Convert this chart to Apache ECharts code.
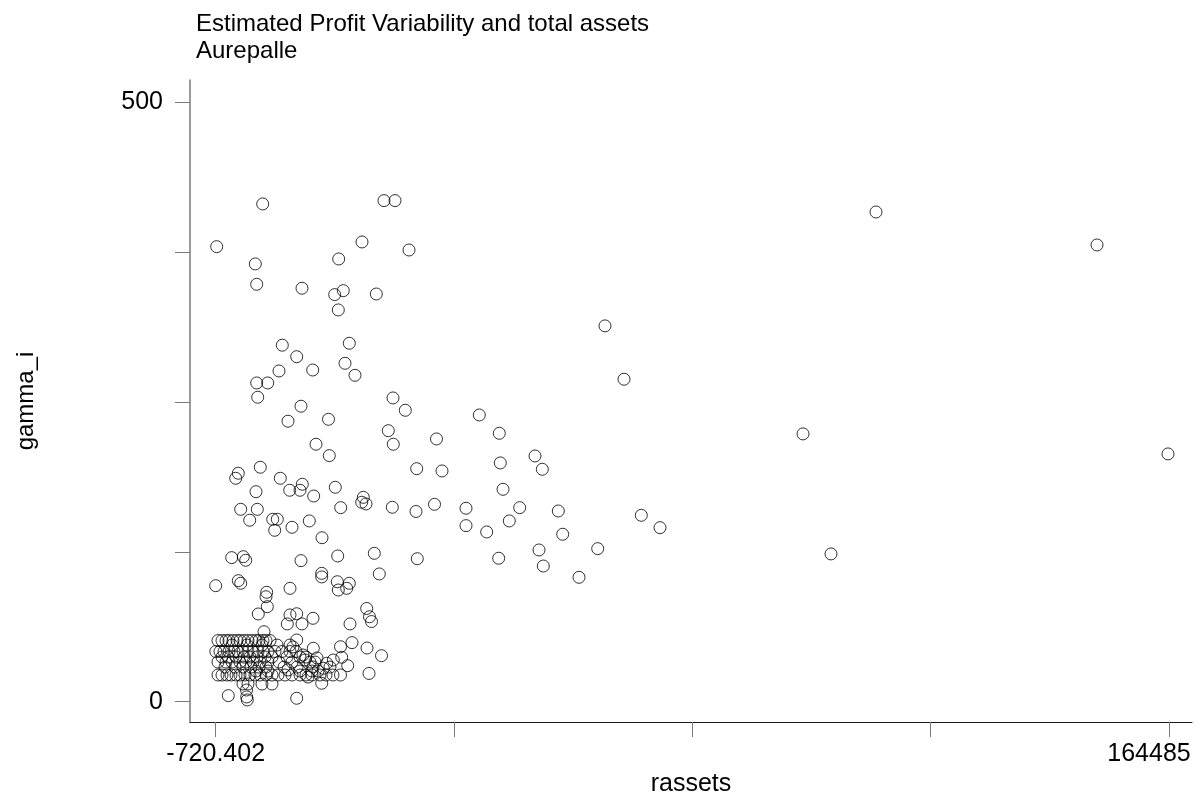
<!DOCTYPE html>
<html>
<head>
<meta charset="utf-8">
<title>Estimated Profit Variability and total assets</title>
<script src="https://cdn.jsdelivr.net/npm/echarts@6/dist/echarts.min.js"></script>
<style>
  html, body { margin: 0; padding: 0; background: #fff; }
  #chart { width: 1204px; height: 799px; }
</style>
</head>
<body>
<div id="chart"></div>
<script>
// titles / axis names
const titleText = 'Estimated Profit Variability and total assets\nAurepalle'
const xName = 'rassets'
const yName = 'gamma_i'

// ticks (Stata style: only min / max labelled on x, 0 / 500 on y)
const xTickValues = [-720.402, 40580.948, 81882.298, 123183.648, 164485]
const xLabelValues = [-720.402, 164485]
const yTickValues = [0, 125, 250, 375, 500]
const yLabelValues = [0, 500]

// axis extents
const xMin = -5174
const xMax = 168471
const yMin = -16.9
const yMax = 518.6

// [rassets, gamma_i] - scattered households
const pointsSparse = [
  [-547, 379.6], [7425, 415.2], [28446, 418.0], [30353, 418.0], [24634, 383.5],
  [32779, 376.8], [6142, 365.2], [20596, 369.3], [6385, 348.2], [14236, 344.9],
  [19902, 339.6], [21393, 342.9], [27112, 340.1], [20526, 326.8], [66746, 313.5],
  [10822, 297.4], [13317, 287.8], [22433, 299.0], [10250, 275.9], [16090, 276.7],
  [21688, 282.3], [23421, 272.3], [6385, 265.9], [8291, 265.9], [70038, 269.0],
  [6558, 254.0], [30006, 253.4], [32137, 243.1], [14062, 246.5], [44962, 239.2],
  [11809, 234.0], [18828, 235.6], [29191, 226.1], [30058, 214.8], [16662, 214.8],
  [37544, 219.2], [48428, 223.9], [101059, 223.4], [113710, 408.5], [152009, 381.0],
  [164313, 206.7], [18967, 205.3], [34113, 194.4], [38498, 192.5], [48601, 199.2],
  [54615, 205.0], [55880, 193.9], [7009, 195.6], [3196, 190.6], [2746, 186.4],
  [10475, 186.4], [6264, 175.2], [12104, 176.4], [13889, 176.4], [14288, 181.4],
  [16263, 171.6], [20006, 178.9], [24859, 170.5], [24582, 166.4], [25327, 165.0],
  [20942, 161.9], [29885, 162.2], [33992, 158.7], [37198, 164.7], [42657, 161.4],
  [42657, 146.9], [46244, 141.6], [49069, 177.2], [51963, 161.9], [50161, 150.8],
  [58652, 159.1], [59415, 139.7], [73036, 155.5], [76277, 145.2], [34217, 119.3],
  [48324, 119.7], [55308, 126.6], [56053, 113.2], [65480, 127.7], [62240, 103.8],
  [105911, 123.3], [3612, 160.5], [6489, 160.5], [5172, 151.4], [9158, 152.2],
  [9955, 152.2], [9505, 143.0], [12503, 145.5], [15501, 150.8], [17702, 136.8],
  [2053, 120.2], [4063, 121.0], [4479, 118.0], [14062, 117.7], [20422, 121.6],
  [26765, 123.8], [27632, 106.6], [17650, 107.1], [17650, 104.1], [-720.402, 96.8],
  [3196, 101.0], [3612, 98.8], [20353, 100.1], [22433, 98.8], [20526, 93.2],
  [21982, 94.6], [12156, 94.6], [8118, 91.3], [7997, 87.6], [8222, 79.3],
  [6662, 73.2], [12156, 72.4], [13317, 73.4], [11688, 64.9], [14236, 64.9],
  [16142, 69.6], [22554, 64.9], [25448, 77.8], [25933, 70.9], [26280, 66.9],
  [7650, 58.4], [13317, 51.5], [16194, 44.6], [20908, 45.9], [22901, 49.3],
  [25500, 44.8], [28013, 38.4], [25847, 23.6], [20908, 22.3], [13317, 2.9],
  [1463, 5.1], [4617, 9.8], [4653, 4.0], [4756, 1.5], [21116, 37.1],
  [19660, 34.8], [18516, 32.1], [17927, 27.9], [22155, 30.1], [17355, 22.3],
  [17650, 15.4]
]

// [rassets, gamma_i] - dense low-asset / low-variability cluster
const pointsCluster = [
  [-322, 51.0], [372, 51.0], [1065, 51.0], [1585, 51.0], [2278, 51.0],
  [2971, 51.0], [3491, 51.0], [4184, 51.0], [4877, 51.0], [5571, 51.0],
  [6264, 51.0], [6784, 51.0], [7477, 51.0], [7997, 51.0], [8690, 51.0],
  [-700, 41.9], [25, 41.9], [718, 41.9], [1585, 41.9], [2451, 41.9],
  [3144, 41.9], [4011, 41.9], [4877, 41.9], [5744, 41.9], [6610, 41.9],
  [7477, 41.9], [8343, 41.9], [9557, 41.9], [10770, 41.9], [12156, 41.9],
  [13196, 41.9],
  [372, 37.3], [1411, 37.3], [2798, 37.3], [4184, 37.3], [5224, 37.3],
  [6437, 37.3], [7824, 37.3], [9037, 37.3], [11636, 37.3], [13889, 37.3],
  [14929, 37.3],
  [-322, 33.1], [1065, 33.1], [2105, 33.1], [3491, 33.1], [4531, 33.1],
  [5744, 33.1], [6957, 33.1], [8343, 33.1], [10250, 33.1], [12503, 33.1],
  [15622, 33.1], [16489, 33.1],
  [892, 28.9], [2625, 28.9], [4011, 28.9], [5397, 28.9], [6784, 28.9],
  [7997, 28.9], [11116, 28.9], [13369, 28.9], [19088, 28.9],
  [-322, 22.3], [372, 22.3], [1238, 22.3], [1931, 22.3], [2798, 22.3],
  [3491, 22.3], [4358, 22.3], [5224, 22.3], [6091, 22.3], [6957, 22.3],
  [7997, 22.3], [9037, 22.3], [10076, 22.3], [11290, 22.3], [12503, 22.3],
  [13889, 22.3], [14929, 22.3], [15969, 22.3], [18395, 22.3], [19608, 22.3],
  [4011, 14.8], [4877, 14.8], [7304, 14.8], [9037, 14.8],
  [2105, 47.3], [4704, 47.3], [7304, 47.3], [9903, 47.3], [12156, 47.3],
  [6264, 25.6], [8343, 25.6], [13889, 25.6], [15969, 25.6], [17008, 25.6],
  [12676, 45.7], [14756, 34.8], [16142, 29.0], [11809, 26.5], [15275, 20.6],
  [14409, 39.0], [16835, 36.5]
]

const fontFamily = '"Liberation Sans", Arial, Helvetica, sans-serif'

const chart = echarts.init(document.getElementById('chart'), null, { renderer: 'canvas' })

const option = {
  animation: false,
  backgroundColor: '#fff',
  textStyle: { fontFamily: fontFamily },
  title: {
    text: titleText,
    left: 191,
    top: 6,
    textStyle: {
      fontFamily: fontFamily,
      fontWeight: 'normal',
      fontSize: 24,
      lineHeight: 27,
      color: '#000'
    }
  },
  grid: {
    left: 190,
    right: 12,
    top: 80,
    bottom: 77,
    containLabel: false,
    outerBoundsMode: 'none'
  },
  xAxis: {
    type: 'value',
    min: xMin,
    max: xMax,
    name: xName,
    nameLocation: 'middle',
    nameGap: 42,
    nameTextStyle: { fontFamily: fontFamily, fontSize: 25, color: '#000' },
    axisLine: { show: true, onZero: false, lineStyle: { color: '#1a1a1a', width: 1 } },
    axisTick: {
      show: true,
      length: 15,
      customValues: xTickValues,
      lineStyle: { color: '#7a7a7a', width: 1 }
    },
    axisLabel: {
      customValues: xLabelValues,
      margin: 20,
      fontSize: 25,
      fontFamily: fontFamily,
      color: '#000',
      formatter: function (v) {
        // last label is pushed left so it stays inside the picture
        return v === 164485 ? '{r|' + v + '}' : String(v)
      },
      rich: {
        r: { fontSize: 25, fontFamily: fontFamily, color: '#000', padding: [0, 40, 0, 0] }
      }
    },
    splitLine: { show: false }
  },
  yAxis: {
    type: 'value',
    min: yMin,
    max: yMax,
    name: yName,
    nameLocation: 'middle',
    nameRotate: 90,
    nameGap: 152,
    nameTextStyle: { fontFamily: fontFamily, fontSize: 24, color: '#000' },
    axisLine: { show: true, onZero: false, lineStyle: { color: '#7a7a7a', width: 1.5 } },
    axisTick: {
      show: true,
      length: 15,
      customValues: yTickValues,
      lineStyle: { color: '#7a7a7a', width: 1 }
    },
    axisLabel: {
      customValues: yLabelValues,
      margin: 27,
      fontSize: 25,
      fontFamily: fontFamily,
      color: '#000'
    },
    splitLine: { show: false }
  },
  series: [
    {
      type: 'scatter',
      name: 'sparse',
      data: pointsSparse,
      symbol: 'circle',
      symbolSize: 12,
      itemStyle: { color: 'rgba(0,0,0,0)', borderColor: '#000', borderWidth: 1 },
      emphasis: { disabled: true }
    },
    {
      type: 'scatter',
      name: 'cluster',
      data: pointsCluster,
      symbol: 'circle',
      symbolSize: 12,
      itemStyle: { color: 'rgba(0,0,0,0)', borderColor: '#000', borderWidth: 1 },
      emphasis: { disabled: true }
    }
  ]
}

chart.setOption(option)
</script>
</body>
</html>
